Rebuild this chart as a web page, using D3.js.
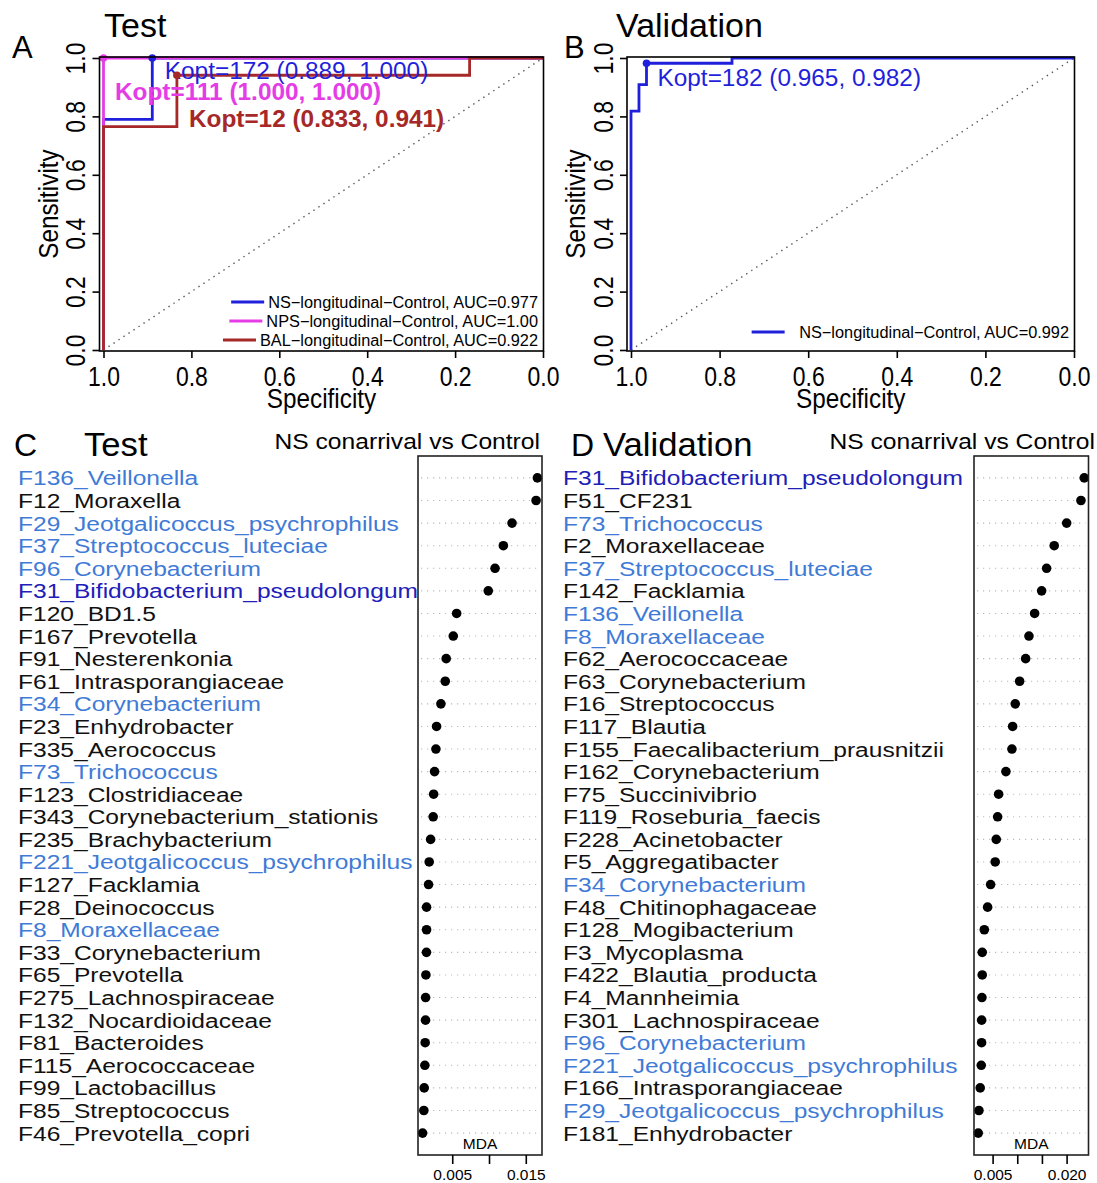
<!DOCTYPE html>
<html>
<head>
<script src="https://d3js.org/d3.v7.min.js"></script>
<style>
  body { margin: 0; background: #fff; }
  text { font-family: Arial, "Liberation Sans", sans-serif; }
</style>
</head>
<body>
<script>
var width = 1097, height = 1183;

// ---- ROC curves, points are [specificity, sensitivity] ----
var rocTestNS  = [[1, 0], [1, 0.79], [0.889, 0.79], [0.889, 1], [0, 1]];
var rocTestNPS = [[1, 0], [1, 1], [0, 1]];
var rocTestBAL = [[1, 0], [1, 0.765], [0.833, 0.765], [0.833, 0.941], [0.167, 0.941], [0.167, 1], [0, 1]];
var rocValNS   = [[1, 0], [1, 0.818], [0.982, 0.818], [0.982, 0.909], [0.965, 0.909], [0.965, 0.982], [0.772, 0.982], [0.772, 1], [0, 1]];

var koptTest = [
  {spec: 0.889, sens: 1.000, text: "Kopt=172 (0.889, 1.000)"},
  {spec: 1.000, sens: 1.000, text: "Kopt=111 (1.000, 1.000)"},
  {spec: 0.833, sens: 0.941, text: "Kopt=12 (0.833, 0.941)"}
];
var koptVal = [{spec: 0.965, sens: 0.982, text: "Kopt=182 (0.965, 0.982)"}];

var legendTest = ["NS\u2212longitudinal\u2212Control, AUC=0.977",
                  "NPS\u2212longitudinal\u2212Control, AUC=1.00",
                  "BAL\u2212longitudinal\u2212Control, AUC=0.922"];
var legendVal = ["NS\u2212longitudinal\u2212Control, AUC=0.992"];

var rocTicks = [1, 0.8, 0.6, 0.4, 0.2, 0];

// ---- variable importance (MDA), NS conarrival vs Control ----
var testNames = ["F136_Veillonella", "F12_Moraxella", "F29_Jeotgalicoccus_psychrophilus",
  "F37_Streptococcus_luteciae", "F96_Corynebacterium", "F31_Bifidobacterium_pseudolongum",
  "F120_BD1.5", "F167_Prevotella", "F91_Nesterenkonia", "F61_Intrasporangiaceae",
  "F34_Corynebacterium", "F23_Enhydrobacter", "F335_Aerococcus", "F73_Trichococcus",
  "F123_Clostridiaceae", "F343_Corynebacterium_stationis", "F235_Brachybacterium",
  "F221_Jeotgalicoccus_psychrophilus", "F127_Facklamia", "F28_Deinococcus",
  "F8_Moraxellaceae", "F33_Corynebacterium", "F65_Prevotella", "F275_Lachnospiraceae",
  "F132_Nocardioidaceae", "F81_Bacteroides", "F115_Aerococcaceae", "F99_Lactobacillus",
  "F85_Streptococcus", "F46_Prevotella_copri"];
var testMDA = [0.01658, 0.01640, 0.01313, 0.01195, 0.01082, 0.00990, 0.00560, 0.00514,
  0.00418, 0.00405, 0.00346, 0.00287, 0.00278, 0.00260, 0.00247, 0.00241, 0.00206,
  0.00187, 0.00178, 0.00151, 0.00151, 0.00150, 0.00142, 0.00138, 0.00137, 0.00132,
  0.00128, 0.00119, 0.00114, 0.00097];
var testGroup = [1, 0, 1, 1, 1, 2, 0, 0, 0, 0, 1, 0, 0, 1, 0, 0, 0, 1, 0, 0,
  1, 0, 0, 0, 0, 0, 0, 0, 0, 0];

var valNames = ["F31_Bifidobacterium_pseudolongum", "F51_CF231", "F73_Trichococcus",
  "F2_Moraxellaceae", "F37_Streptococcus_luteciae", "F142_Facklamia", "F136_Veillonella",
  "F8_Moraxellaceae", "F62_Aerococcaceae", "F63_Corynebacterium", "F16_Streptococcus",
  "F117_Blautia", "F155_Faecalibacterium_prausnitzii", "F162_Corynebacterium",
  "F75_Succinivibrio", "F119_Roseburia_faecis", "F228_Acinetobacter", "F5_Aggregatibacter",
  "F34_Corynebacterium", "F48_Chitinophagaceae", "F128_Mogibacterium", "F3_Mycoplasma",
  "F422_Blautia_producta", "F4_Mannheimia", "F301_Lachnospiraceae", "F96_Corynebacterium",
  "F221_Jeotgalicoccus_psychrophilus", "F166_Intrasporangiaceae",
  "F29_Jeotgalicoccus_psychrophilus", "F181_Enhydrobacter"];
var valMDA = [0.02358, 0.02291, 0.02001, 0.01749, 0.01595, 0.01494, 0.01352, 0.01237,
  0.01170, 0.01048, 0.00959, 0.00906, 0.00892, 0.00770, 0.00622, 0.00602, 0.00574,
  0.00553, 0.00460, 0.00399, 0.00332, 0.00290, 0.00290, 0.00284, 0.00278, 0.00277,
  0.00270, 0.00249, 0.00223, 0.00209];
var valGroup = [2, 0, 1, 0, 1, 0, 1, 1, 0, 0, 0, 0, 0, 0, 0, 0, 0, 0, 1, 0,
  0, 0, 0, 0, 0, 1, 1, 0, 1, 0];

var testTicks = [0.005, 0.010, 0.015], testTickText = ["0.005", "", "0.015"];
var valTicks = [0.005, 0.010, 0.015, 0.020], valTickText = ["0.005", "", "", "0.020"];

// ---- styles ----
var cBlue = "#1f1fdc", cPink = "#e53de5", cRed = "#a62828";
var labelColors = ["#111", "#3f7bd6", "#2020b8"];

var svg = d3.select("body").append("svg")
    .attr("width", width)
    .attr("height", height);

function txt(g, x, y, s, o) {
  var tr = "translate(" + x + "," + y + ")";
  if (o.rot) tr += " rotate(" + o.rot + ")";
  if (o.sx) tr += " scale(" + o.sx + ",1)";
  return g.append("text")
      .attr("transform", tr)
      .attr("font-size", o.size)
      .attr("font-weight", o.bold ? "bold" : null)
      .attr("text-anchor", o.anchor || "start")
      .attr("fill", o.fill || "#000")
      .text(s);
}

// ROC panel
function rocPanel(box, title, letter, curves, kopts, legend) {
  var g = svg.append("g");
  var x = d3.scaleLinear().domain([1, 0]).range([box.x0 + 4, box.x1 - 0.5]);
  var y = d3.scaleLinear().domain([0, 1]).range([box.y1 - 1, box.y0 + 1]);

  g.append("line")
      .attr("x1", x(1)).attr("y1", y(0)).attr("x2", x(0)).attr("y2", y(1))
      .attr("stroke", "#555").attr("stroke-width", 1.4)
      .attr("stroke-dasharray", "1.4,4.6");

  var line = d3.line().x(function(d) { return x(d[0]); }).y(function(d) { return y(d[1]); });
  curves.forEach(function(c) {
    g.append("path").attr("d", line(c.data))
        .attr("fill", "none").attr("stroke", c.color).attr("stroke-width", 2.8);
  });

  kopts.forEach(function(k, i) {
    var c = curves[i];
    g.append("circle").attr("cx", x(k.spec)).attr("cy", y(k.sens)).attr("r", 3.8)
        .attr("fill", c.color);
    txt(g, x(k.spec) + c.dx, y(k.sens) + c.dy, k.text,
        {size: 23, sx: 1.06, fill: c.color, bold: c.bold});
  });

  g.append("rect").attr("x", box.x0).attr("y", box.y0)
      .attr("width", box.x1 - box.x0).attr("height", box.y1 - box.y0)
      .attr("fill", "none").attr("stroke", "#000").attr("stroke-width", 1.6);

  var ax = g.append("g").attr("transform", "translate(0," + box.y1 + ")")
      .call(d3.axisBottom(x).tickValues(rocTicks).tickSize(7).tickFormat(d3.format(".1f")));
  ax.select(".domain").remove();
  ax.selectAll("line").attr("stroke-width", 1.6);
  ax.selectAll("text").attr("font-size", 28).attr("fill", "#000")
      .attr("y", 0).attr("dy", 0)
      .attr("transform", "translate(0,35) scale(0.82,1)");

  var ay = g.append("g").attr("transform", "translate(" + box.x0 + ",0)")
      .call(d3.axisLeft(y).tickValues(rocTicks).tickSize(7).tickFormat(d3.format(".1f")));
  ay.select(".domain").remove();
  ay.selectAll("line").attr("stroke-width", 1.6);
  ay.selectAll("text").attr("font-size", 28).attr("fill", "#000")
      .attr("x", 0).attr("dy", 0).attr("y", 0)
      .attr("text-anchor", "middle")
      .attr("transform", "translate(-14.5,0) rotate(-90) scale(0.82,1)");

  txt(g, (box.x0 + box.x1) / 2, box.y1 + 57, "Specificity", {size: 27, sx: 0.9, anchor: "middle"});
  txt(g, box.x0 - 42, (box.y0 + box.y1) / 2, "Sensitivity", {size: 27, sx: 0.9, rot: -90, anchor: "middle"});
  txt(g, box.titleX, 37, title, {size: 34});
  txt(g, letter.x, 58, letter.s, {size: 31});

  legend.forEach(function(s, i) {
    var ty = box.legendY + i * 19;
    var t = txt(g, box.x1 - 5.5, ty + 5.8, s, {size: 16, sx: 1.02, anchor: "end"});
    var bb = t.node().getBBox();
    var xe = box.x1 - 5.5 - bb.width * 1.02 - box.legendGap;
    g.append("line").attr("x1", xe - 33).attr("x2", xe).attr("y1", ty).attr("y2", ty)
        .attr("stroke", curves[i].color).attr("stroke-width", 2.8);
  });
}

rocPanel({x0: 99.5, x1: 543.5, y0: 57, y1: 351, legendY: 302, legendGap: 4, titleX: 104}, "Test",
  {x: 12, s: "A"},
  [{data: rocTestNS, color: cBlue, dx: 12.5, dy: 21, bold: false},
   {data: rocTestNPS, color: cPink, dx: 11.5, dy: 42, bold: true},
   {data: rocTestBAL, color: cRed, dx: 12, dy: 52, bold: true}],
  koptTest, legendTest);

rocPanel({x0: 627, x1: 1074.5, y0: 57, y1: 351, legendY: 332, legendGap: 14.5, titleX: 616}, "Validation",
  {x: 564, s: "B"},
  [{data: rocValNS, color: cBlue, dx: 11, dy: 22.7, bold: false}],
  koptVal, legendVal);

// Dot chart panel
function dotPanel(box, names, vals, groups, ticks, tickText, letter, title) {
  var g = svg.append("g");
  var ext = d3.extent(vals), pad = (ext[1] - ext[0]) * 0.04;
  var x = d3.scaleLinear().domain([ext[0] - pad, ext[1] + pad]).range([box.x0, box.x1]);
  var y = d3.scalePoint().domain(names).range([box.y0, box.y1]).padding(0.97);

  g.selectAll(".grid").data(names).enter().append("line")
      .attr("x1", box.x0 + 3).attr("x2", box.x1 - 3)
      .attr("y1", function(d) { return y(d); }).attr("y2", function(d) { return y(d); })
      .attr("stroke", "#bbb").attr("stroke-width", 1.1).attr("stroke-dasharray", "1.2,4.8");

  g.selectAll(".dot").data(vals).enter().append("circle")
      .attr("cx", function(d) { return x(d); })
      .attr("cy", function(d, i) { return y(names[i]); })
      .attr("r", 4.8).attr("fill", "#000");

  g.selectAll(".lab").data(names).enter().append("text")
      .attr("transform", function(d) { return "translate(" + box.labelX + "," + (y(d) + 7.5) + ") scale(1.17,1)"; })
      .attr("font-size", 21)
      .attr("fill", function(d, i) { return labelColors[groups[i]]; })
      .text(function(d) { return d; });

  g.append("rect").attr("x", box.x0).attr("y", box.y0)
      .attr("width", box.x1 - box.x0).attr("height", box.y1 - box.y0)
      .attr("fill", "none").attr("stroke", "#222").attr("stroke-width", 1.6);

  var ax = g.append("g").attr("transform", "translate(0," + box.y1 + ")")
      .call(d3.axisBottom(x).tickValues(ticks).tickSize(9)
        .tickFormat(function(d, i) { return tickText[i]; }));
  ax.select(".domain").remove();
  ax.selectAll("line").attr("stroke-width", 1.6);
  ax.selectAll("text").attr("font-size", 15.5).attr("fill", "#000").attr("y", 25).attr("dy", 0);

  txt(g, (box.x0 + box.x1) / 2, box.y1 - 6, "MDA", {size: 15.5, anchor: "middle"});
  txt(g, letter.x, 456, letter.s, {size: 32});
  txt(g, letter.tx, 456, title, {size: 33, sx: 1.05});
  txt(g, box.headX, 449, "NS conarrival vs Control", {size: 22, sx: 1.12, anchor: "end"});
}

dotPanel({x0: 418, x1: 542, y0: 456, y1: 1155, labelX: 18, headX: 540},
  testNames, testMDA, testGroup, testTicks, testTickText,
  {x: 14, s: "C", tx: 84}, "Test");

dotPanel({x0: 974, x1: 1088.5, y0: 456, y1: 1155, labelX: 563, headX: 1095},
  valNames, valMDA, valGroup, valTicks, valTickText,
  {x: 571, s: "D", tx: 603}, "Validation");
</script>
</body>
</html>
